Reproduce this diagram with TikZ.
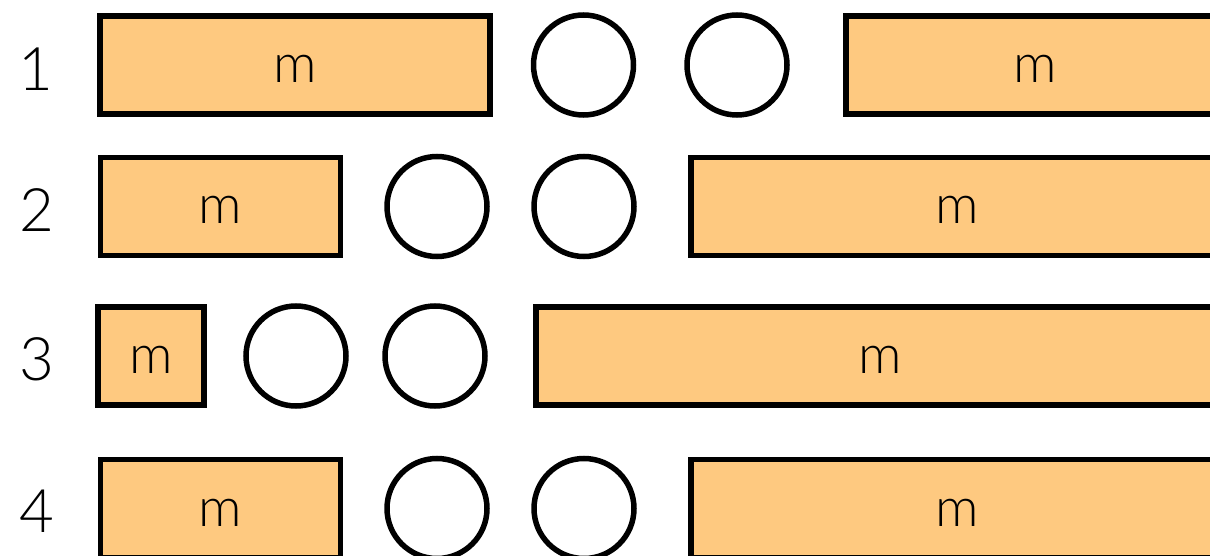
\documentclass[tikz,border=0pt]{standalone}
\usepackage{fontspec}
\setmainfont{Lato Light}
\usepackage{tikz}
\usetikzlibrary{positioning}
\definecolor{blockorange}{HTML}{FEC980}

\begin{document}
\begin{tikzpicture}[x=1pt, y=-1pt,
        block/.style={draw=black, line width=5.5pt, fill=blockorange,
                      minimum height=98pt, inner sep=0pt,
                      text height=35pt, text depth=0pt,
                      font=\fontsize{54}{54}\selectfont},
        slot/.style={draw=black, line width=5.5pt, circle, fill=white,
                     minimum size=100pt, inner sep=0pt},
        rowlabel/.style={font=\fontsize{60}{60}\selectfont, inner sep=0pt}
    ]
        \useasboundingbox (0,0) rectangle (1210,556);
        \clip (0,0) rectangle (1210,556);
        % row 1
        \node[rowlabel] (n1) at (36,69) {1};
        \node[block, minimum width=390pt] (a1) at (295,65) {m};
        \node[slot] (c1a) at (583.5,65) {};
        \node[slot] (c1b) at (737,65) {};
        \node[block, minimum width=378pt, anchor=west] (b1) at (843,65) {m};
        % row 2
        \node[rowlabel] (n2) at (37,210) {2};
        \node[block, minimum width=240pt] (a2) at (220.5,206.5) {m};
        \node[slot] (c2a) at (437,206.5) {};
        \node[slot] (c2b) at (584,206.5) {};
        \node[block, minimum width=532pt, anchor=west] (b2) at (688,206.5) {m};
        % row 3
        \node[rowlabel] (n3) at (37,359.5) {3};
        \node[block, minimum width=106pt] (a3) at (151,356) {m};
        \node[slot] (c3a) at (296,356) {};
        \node[slot] (c3b) at (435,356) {};
        \node[block, minimum width=688pt, anchor=west] (b3) at (533,356) {m};
        % row 4
        \node[rowlabel] (n4) at (37,511.5) {4};
        \node[block, minimum width=240pt] (a4) at (220.5,508.5) {m};
        \node[slot] (c4a) at (437,508.5) {};
        \node[slot] (c4b) at (584,508.5) {};
        \node[block, minimum width=532pt, anchor=west] (b4) at (688,508.5) {m};
    \end{tikzpicture}
\end{document}
